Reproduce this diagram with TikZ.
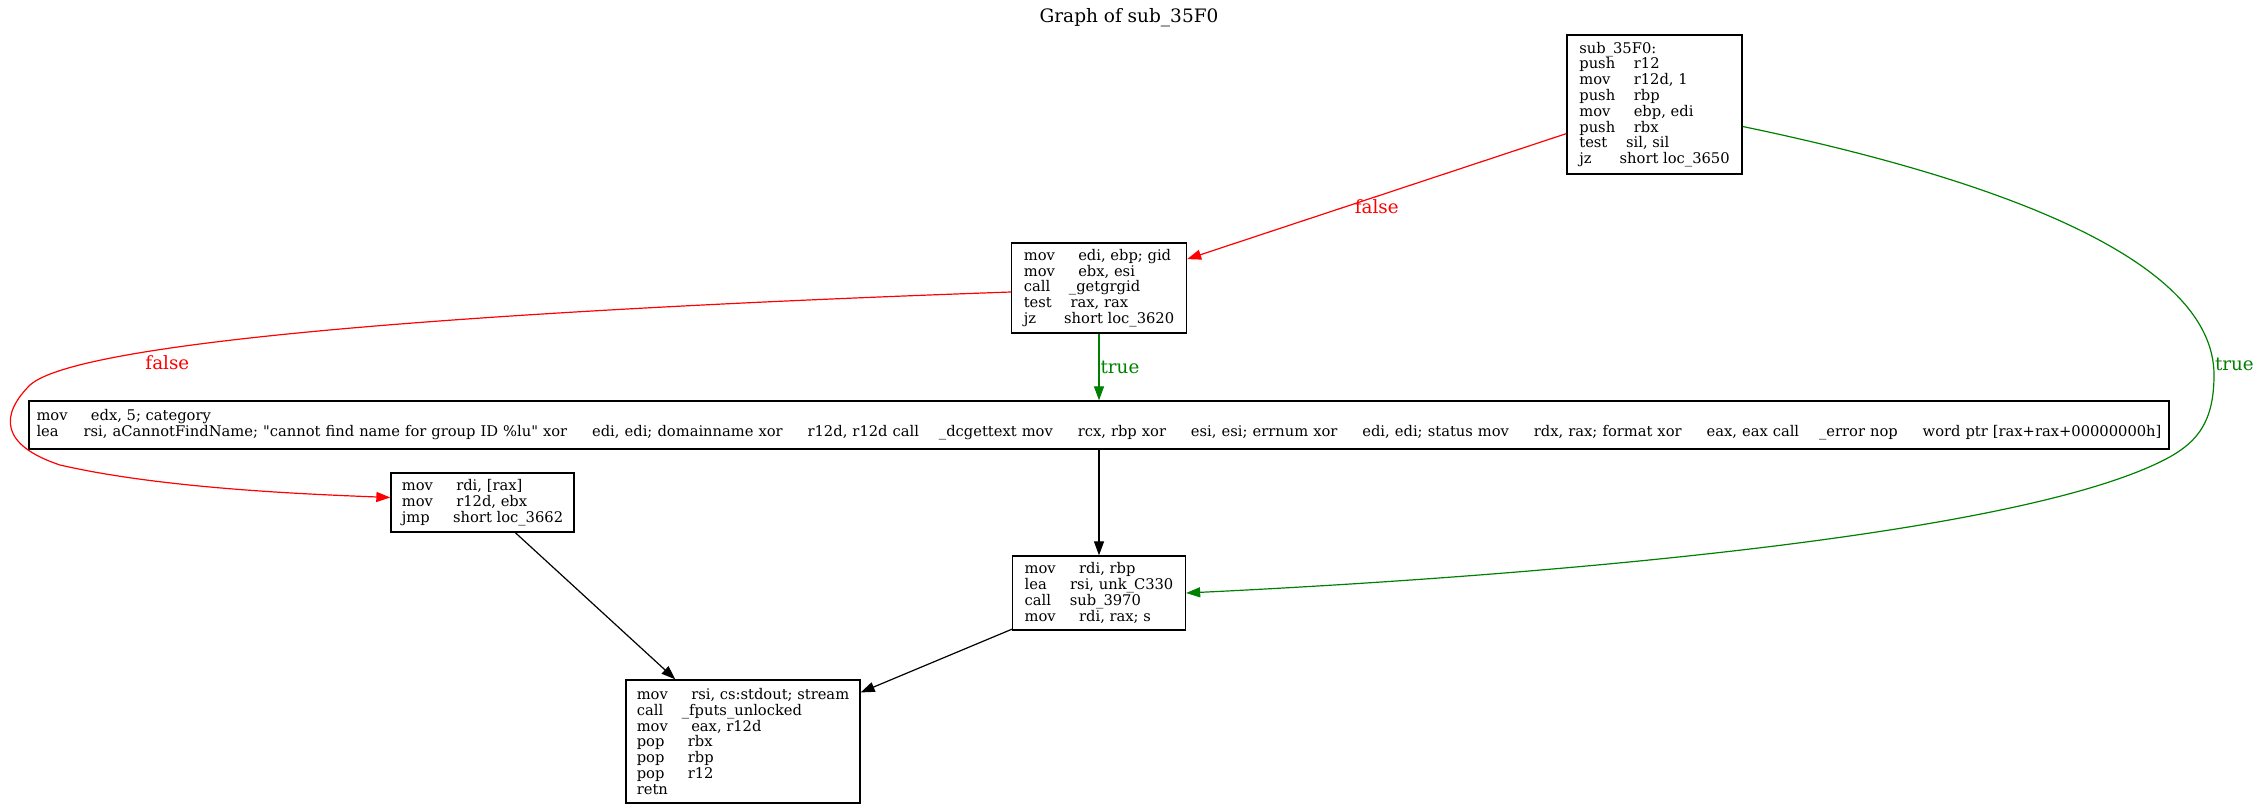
\documentclass[tikz,border=0pt]{standalone}
\usepackage{fontspec}
\setmainfont{DejaVu Serif}[Ligatures=TeXOff]
\usepackage{tikz}
\usetikzlibrary{arrows.meta,positioning}
\tikzset{
  cbox/.style={rectangle, draw=black, line width=1.3pt, align=left, inner sep=0pt, font=\fontsize{14.7}{15.8}\selectfont},
  carrow/.style={-{Triangle[length=14pt,width=10pt]}, line width=1.2pt},
  ctrue/.style={carrow, truegreen},
  cfalse/.style={carrow, red},
  elabel/.style={font=\fontsize{18.3}{20}\selectfont, inner sep=1pt}
}
\definecolor{truegreen}{RGB}{0,128,0}

\begin{document}
\begin{tikzpicture}[x=1pt, y=-1pt]
\useasboundingbox (0,0) rectangle (2260,808);
\node[font=\fontsize{18.5}{20}\selectfont] (title) at (1129,18) {Graph of sub\_35F0};
\node[cbox, minimum width=175, minimum height=139] (entry) at (1654.5,104.5) {sub\_35F0:\\push~~~~r12\\mov~~~~~r12d, 1\\push~~~~rbp\\mov~~~~~ebp, edi\\push~~~~rbx\\test~~~~sil, sil\\jz~~~~~~short loc\_3650};
\node[cbox, minimum width=175, minimum height=90] (getgr) at (1099,288) {mov~~~~~edi, ebp; gid\\mov~~~~~ebx, esi\\call~~~~\_getgrgid\\test~~~~rax, rax\\jz~~~~~~short loc\_3620};
\node[cbox, minimum width=2140, minimum height=48] (cat) at (1099,425) {mov~~~~~edx, 5; category\\\makebox[2125pt][s]{lea~~~~~rsi, aCannotFindName; "cannot find name for group ID \%lu" xor~~~~~edi, edi; domainname xor~~~~~r12d, r12d call~~~~\_dcgettext mov~~~~~rcx, rbp xor~~~~~esi, esi; errnum xor~~~~~edi, edi; status mov~~~~~rdx, rax; format xor~~~~~eax, eax call~~~~\_error nop~~~~~word ptr [rax+rax+00000000h]}};
\node[cbox, minimum width=183, minimum height=59] (fb) at (482.5,502.5) {mov~~~~~rdi, [rax]\\mov~~~~~r12d, ebx\\jmp~~~~~short loc\_3662};
\node[cbox, minimum width=173, minimum height=74] (ret) at (1099,593) {mov~~~~~rdi, rbp\\lea~~~~~rsi, unk\_C330\\call~~~~sub\_3970\\mov~~~~~rdi, rax; s};
\node[cbox, minimum width=234, minimum height=123] (out) at (743,741.5) {mov~~~~~rsi, cs:stdout; stream\\call~~~~\_fputs\_unlocked\\mov~~~~~eax, r12d\\pop~~~~~rbx\\pop~~~~~rbp\\pop~~~~~r12\\retn};
% branches
\draw[cfalse] (entry) -- node[elabel, red, midway, below=2pt] {false} (getgr);
\draw[ctrue] ([yshift=-22pt]entry.east) .. controls (2000,180) and (2214,260) .. (2214,375) node[elabel, truegreen, pos=0.97, anchor=west] {true} .. controls (2214,425) and (2195,445) .. (2160,462) .. controls (2000,540) and (1500,578) .. (ret.east);
\draw[cfalse] ([yshift=-4pt]getgr.west) .. controls (500,310) and (80,340) .. (30,385) node[elabel, red, pos=0.7, below=6pt] {false} .. controls (0,415) and (0,445) .. (60,465) .. controls (160,488) and (300,494) .. ([yshift=5pt]fb.west);
\draw[ctrue] (getgr) -- node[elabel, truegreen, midway, right] {true} (cat);
% fall through
\draw[carrow] (cat) -- (ret);
\draw[carrow] (fb) -- (out);
\draw[carrow] (ret) -- (out);
\end{tikzpicture}
\end{document}
